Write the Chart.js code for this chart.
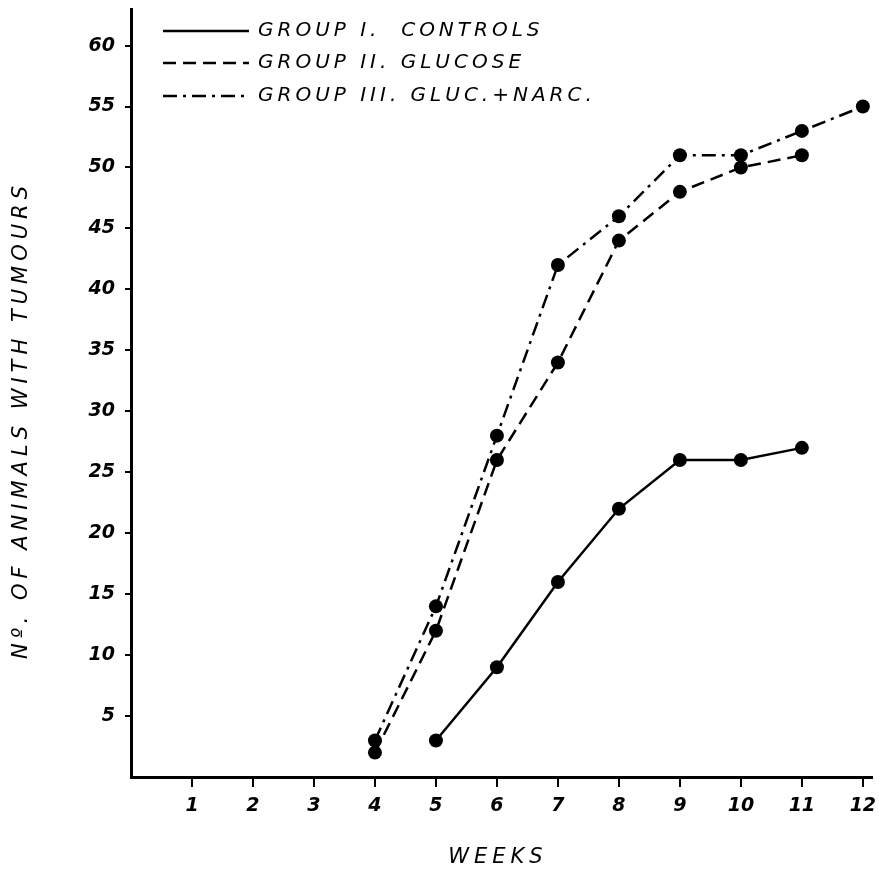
<!DOCTYPE html>
<html><head><meta charset="utf-8">
<script src="https://cdn.jsdelivr.net/npm/chart.js@4/dist/chart.umd.min.js"></script>
<style>html,body{margin:0;padding:0;background:#fff}#wrap{width:879px;height:869px}</style>
</head><body><div id="wrap"><canvas id="c" width="879" height="869"></canvas></div>
<script>
const weekTicks = [1,2,3,4,5,6,7,8,9,10,11,12];
const yTickValues = [5,10,15,20,25,30,35,40,45,50,55,60];
const weeksI = [5,6,7,8,9,10,11];
const controls = [3,9,16,22,26,26,27];
const weeksII = [4,5,6,7,8,9,10,11];
const glucose = [2,12,26,34,44,48,50,51];
const weeksIII = [4,5,6,7,8,9,10,11,12];
const glucNarc = [3,14,28,42,46,51,51,53,55];
const seriesLabels = ['GROUP I.  CONTROLS','GROUP II. GLUCOSE','GROUP III. GLUC.+NARC.'];
const yTitle = 'N\u00BA. OF ANIMALS WITH TUMOURS';
const xTitle = 'WEEKS';

const FONT = '"DejaVu Sans", sans-serif';
function pts(xs, ys){ return xs.map((x,i)=>({x:x, y:ys[i]})); }
function ds(label, xs, ys, dash){
  return {label, data: pts(xs, ys), borderColor:'#000', backgroundColor:'#000',
    borderWidth:2.5, borderDash:dash, pointRadius:7, pointBackgroundColor:'#000',
    pointBorderWidth:0, tension:0, fill:false, showLine:true};
}

const decor = {
  id:'decor',
  afterDraw(chart){
    const ctx = chart.ctx;
    ctx.save();
    const rows = [31,63,96];
    chart.data.datasets.forEach((d,i)=>{
      ctx.strokeStyle='#000'; ctx.lineWidth=2.5;
      ctx.setLineDash(d.borderDash||[]);
      ctx.beginPath(); ctx.moveTo(163,rows[i]); ctx.lineTo(249,rows[i]); ctx.stroke();
      ctx.setLineDash([]);
      ctx.fillStyle='#000';
      ctx.font = 'italic 20px '+FONT;
      ctx.letterSpacing = '4px';
      ctx.textBaseline='middle'; ctx.textAlign='left';
      ctx.fillText(d.label, 258, rows[i]);
    });
    ctx.font = 'italic 21px '+FONT;
    ctx.letterSpacing = '5px';
    ctx.textAlign='center'; ctx.textBaseline='middle';
    ctx.fillText(xTitle, 498, 858);
    ctx.translate(22, 420);
    ctx.rotate(-Math.PI/2);
    ctx.fillText(yTitle, 0, 0);
    ctx.restore();
  }
};

const tickFont = {family: FONT, size: 19, style: 'italic', weight: 'bold'};
function noPad(s){ s.paddingTop = 0; s.paddingBottom = 0; s.paddingLeft = 0; s.paddingRight = 0; }

new Chart(document.getElementById('c'), {
  type: 'scatter',
  data: { datasets: [
    ds(seriesLabels[0], weeksI, controls, []),
    ds(seriesLabels[1], weeksII, glucose, [13,7]),
    ds(seriesLabels[2], weeksIII, glucNarc, [14,6,3,6])
  ]},
  options: {
    responsive:false, animation:false, devicePixelRatio:1,
    layout:{padding:{top:9, right:4, left:0, bottom:0}},
    plugins:{legend:{display:false}, tooltip:{enabled:false}},
    scales:{
      x:{type:'linear', min:0, max:12.15,
        afterBuildTicks: s => { s.ticks = weekTicks.map(v=>({value:v})); },
        afterFit: s => { s.height = 92; noPad(s); },
        grid:{drawOnChartArea:false, drawTicks:true, tickLength:10, color:'#000', lineWidth:2},
        border:{display:true, color:'#000', width:3},
        ticks:{color:'#000', font:tickFont, padding:8, maxRotation:0, autoSkip:false}
      },
      y:{type:'linear', min:0, max:63,
        afterBuildTicks: s => { s.ticks = yTickValues.map(v=>({value:v})); },
        afterFit: s => { s.width = 131; noPad(s); },
        grid:{drawOnChartArea:false, drawTicks:true, tickLength:6, color:'#000', lineWidth:2},
        border:{display:true, color:'#000', width:3},
        ticks:{color:'#000', font:tickFont, padding:10, autoSkip:false}
      }
    }
  },
  plugins:[decor]
});
</script></body></html>
